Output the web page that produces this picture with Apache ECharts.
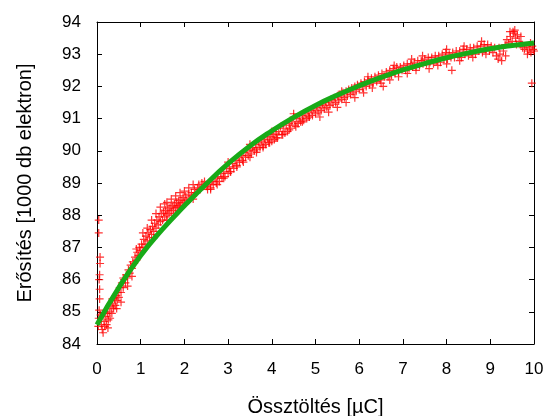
<!DOCTYPE html>
<html>
<head>
<meta charset="utf-8">
<script src="https://cdn.jsdelivr.net/npm/echarts@6/dist/echarts.min.js"></script>
<style>
  html, body { margin: 0; padding: 0; background: #fff; }
  #chart { width: 547px; height: 416px; }
</style>
</head>
<body>
<div id="chart"></div>
<script>
// axis ranges / ticks
const xTicks = [0, 10, 1]
const yTicks = [84, 94, 1]

// illesztett görbe (green fit)
const fitX = [0, 0.5, 1, 1.5, 2, 2.5, 3, 3.5, 4, 4.5, 5, 5.5, 6, 6.5, 7, 7.5, 8, 8.5, 9, 9.5, 10]
const fitY = [84.6, 85.75, 86.75, 87.57, 88.29, 88.97, 89.6, 90.15, 90.62, 91.04, 91.41, 91.73, 92.02, 92.28, 92.51, 92.71, 92.89, 93.04, 93.17, 93.27, 93.35]

// mért pontok, szakaszonként [x, y]
const meas0to1 = [
  [0.03,84.55],[0.04,84.8],[0.05,85.05],[0.06,85.4],[0.06,85.7],[0.05,86.0],[0.06,86.15],[0.07,86.5],[0.07,86.7],[0.04,87.45],[0.04,87.85],
  [0.08,84.9],[0.1,84.6],[0.12,84.45],[0.14,84.35],[0.16,84.7],[0.18,84.55],[0.2,84.85],[0.22,84.6],[0.24,84.95],[0.26,84.75],[0.28,85.0],
  [0.3,84.8],[0.32,85.15],[0.34,84.95],[0.36,85.25],[0.38,85.1],[0.4,85.4],[0.42,85.2],[0.44,85.5],[0.46,85.35],[0.48,85.6],[0.5,85.45],
  [0.52,85.75],[0.55,85.6],[0.57,85.9],[0.6,85.75],[0.62,86.0],[0.65,85.9],[0.67,86.15],[0.7,86.05],[0.72,86.3],[0.75,86.2],[0.77,86.45],
  [0.8,86.35],[0.82,86.55],[0.85,86.5],[0.87,86.7],[0.9,86.6],[0.92,86.85],[0.95,86.75],[0.97,87.0],
  [0.15,84.95],[0.25,84.5],[0.35,85.4],[0.45,85.1],[0.55,85.3],[0.6,86.05],[0.7,85.8],[0.8,86.1],[0.9,86.95]
]
const meas1to25 = [
  [1.0,86.9],[1.02,87.1],[1.05,87.0],[1.07,87.25],[1.1,87.1],[1.12,87.35],[1.15,87.2],[1.17,87.45],[1.2,87.3],[1.22,87.55],[1.25,87.4],
  [1.27,87.65],[1.3,87.5],[1.32,87.75],[1.35,87.6],[1.37,87.85],[1.4,87.7],[1.42,87.95],[1.45,87.8],[1.47,88.05],[1.5,87.85],[1.52,88.1],
  [1.55,87.95],[1.57,88.15],[1.6,88.0],[1.62,88.2],[1.65,88.05],[1.67,88.25],[1.7,88.1],[1.72,88.3],[1.75,88.15],[1.77,88.35],[1.8,88.2],
  [1.82,88.4],[1.85,88.25],[1.87,88.45],[1.9,88.3],[1.92,88.5],[1.95,88.35],[1.97,88.55],[2.0,88.4],[2.03,88.6],[2.06,88.45],[2.1,88.65],
  [2.13,88.5],[2.16,88.7],[2.2,88.6],[2.23,88.8],[2.26,88.7],[2.3,88.85],[2.33,88.95],[2.36,88.8],[2.4,89.0],[2.43,88.9],[2.46,89.05],[2.5,88.9],
  [1.05,87.45],[1.15,87.6],[1.25,87.85],[1.35,88.05],[1.45,88.25],[1.55,88.35],[1.6,88.4],[1.7,88.5],[1.8,88.6],[1.9,88.7],[2.0,88.75],
  [2.1,88.85],[2.2,88.95],[1.3,87.3],[1.6,87.85],[1.9,88.25],[2.2,88.5]
]
const meas25to5 = [
  [2.53,88.8],[2.56,89.0],[2.6,88.85],[2.63,89.05],[2.66,88.95],[2.7,89.15],[2.73,89.0],[2.76,89.2],[2.8,89.05],[2.83,89.3],[2.86,89.15],
  [2.9,89.35],[2.93,89.2],[2.96,89.45],[3.0,89.3],[3.03,89.5],[3.06,89.35],[3.1,89.6],[3.13,89.45],[3.16,89.7],[3.2,89.55],[3.23,89.8],
  [3.26,89.65],[3.3,89.85],[3.33,89.7],[3.36,89.95],[3.4,89.8],[3.43,90.0],[3.46,89.85],[3.5,90.05],[3.53,89.9],[3.56,90.1],[3.6,90.0],
  [3.63,90.2],[3.66,90.05],[3.7,90.25],[3.73,90.1],[3.76,90.3],[3.8,90.15],[3.83,90.35],[3.86,90.2],[3.9,90.4],[3.93,90.25],[3.96,90.45],
  [4.0,90.3],[4.03,90.5],[4.06,90.35],[4.1,90.55],[4.13,90.4],[4.16,90.6],[4.2,90.75],[4.23,90.5],[4.26,90.7],[4.3,90.55],[4.33,90.8],
  [4.36,90.6],[4.4,90.85],[4.43,90.7],[4.46,90.9],[4.5,91.15],[4.53,90.8],[4.56,91.0],[4.6,90.85],[4.63,91.05],[4.66,90.9],[4.7,91.1],
  [4.73,90.95],[4.76,91.15],[4.8,91.0],[4.83,91.2],[4.86,91.05],[4.9,91.25],[4.93,91.1],[4.96,91.3],[5.0,91.15],
  [2.6,88.8],[2.75,88.95],[2.9,89.15],[3.05,89.35],[3.2,89.5],[3.35,89.65],[3.5,89.8],[3.65,89.95],[3.8,90.1],[3.95,90.25],[4.1,90.4],
  [4.25,90.5],[4.4,90.65],[4.55,90.75],[4.7,90.9],[4.85,91.05],[3.0,89.65],[3.5,90.2],[4.0,90.6],[4.5,91.05]
]
const meas5to75 = [
  [5.03,91.35],[5.06,91.2],[5.1,91.4],[5.13,91.25],[5.16,91.45],[5.2,91.3],[5.23,91.5],[5.26,91.35],[5.3,91.55],[5.33,91.4],[5.36,91.6],
  [5.4,91.45],[5.43,91.65],[5.46,91.5],[5.5,91.7],[5.53,91.55],[5.56,91.75],[5.6,91.6],[5.63,91.8],[5.66,91.65],[5.7,91.85],[5.73,91.7],
  [5.76,91.9],[5.8,91.75],[5.83,91.95],[5.86,91.8],[5.9,92.0],[5.93,91.85],[5.96,92.05],[6.0,91.9],[6.04,92.1],[6.08,91.95],[6.12,92.15],
  [6.16,92.0],[6.2,92.2],[6.24,92.05],[6.28,92.25],[6.32,92.1],[6.36,92.3],[6.4,92.15],[6.44,92.35],[6.48,92.2],[6.52,92.4],[6.55,92.0],
  [6.58,92.3],[6.62,92.45],[6.66,92.3],[6.7,92.5],[6.74,92.35],[6.78,92.55],[6.82,92.4],[6.86,92.6],[6.9,92.45],[6.94,92.6],[6.98,92.5],
  [7.02,92.65],[7.06,92.5],[7.1,92.7],[7.14,92.55],[7.18,92.7],[7.22,92.6],[7.26,92.75],[7.3,92.6],[7.34,92.8],[7.38,92.65],[7.42,92.8],[7.46,92.7],
  [5.1,91.05],[5.3,91.2],[5.5,91.35],[5.7,91.5],[5.9,91.65],[6.1,91.8],[6.3,91.95],[6.5,92.1],[6.7,92.2],[6.9,92.3],[7.1,92.4],[7.3,92.5],
  [5.6,91.85],[6.2,92.3],[6.8,92.65],[7.2,92.85],[7.45,92.95]
]
const meas75to10 = [
  [7.5,92.85],[7.54,92.7],[7.58,92.9],[7.62,92.75],[7.66,92.9],[7.7,92.7],[7.74,92.95],[7.78,92.8],[7.82,92.95],[7.86,92.75],[7.9,93.0],
  [7.94,92.85],[7.98,93.05],[8.02,92.85],[8.06,93.0],[8.1,92.9],[8.12,92.5],[8.14,93.05],[8.18,92.9],[8.22,93.1],[8.26,92.95],[8.3,93.1],
  [8.34,92.9],[8.38,93.15],[8.42,93.0],[8.46,93.15],[8.5,92.95],[8.54,93.2],[8.58,93.05],[8.62,93.2],[8.66,93.0],[8.7,93.25],[8.74,93.1],
  [8.78,93.25],[8.82,93.05],[8.86,93.3],[8.9,93.15],[8.94,93.3],[8.98,93.1],[9.02,93.25],[9.06,93.05],[9.1,93.2],[9.14,92.95],[9.18,92.85],
  [9.22,93.0],[9.26,92.8],[9.3,93.1],[9.34,93.3],[9.38,93.45],[9.42,93.35],[9.46,93.55],[9.5,93.4],[9.54,93.65],[9.56,93.75],[9.58,93.5],
  [9.62,93.6],[9.66,93.4],[9.7,93.3],[9.74,93.2],[9.78,93.15],[9.82,93.25],[9.86,93.1],[9.9,93.2],[9.93,93.05],[9.96,93.25],[9.98,93.15],[9.95,92.1],
  [7.6,92.55],[7.8,92.65],[8.0,92.7],[8.3,92.8],[8.6,92.9],[8.9,93.0],[8.0,93.15],[8.4,93.25],[8.8,93.4],[9.45,93.7],[9.52,93.7],
  [9.6,93.3],[9.2,93.2],[9.35,92.95],[9.7,93.55],[9.85,93.0],[9.92,93.35],[10.0,93.1]
]

const measured = [].concat(meas0to1, meas1to25, meas25to5, meas5to75, meas75to10)
const fitData = fitX.map((x, i) => [x, fitY[i]])

const FONT = 'Liberation Sans'
const plusSymbol = 'path://M3.4,0h1.2v3.4h3.4v1.2h-3.4v3.4h-1.2v-3.4h-3.4v-1.2h3.4z'

const axisCommon = {
  type: 'value',
  axisLine: { show: true, onZero: false, lineStyle: { color: '#000', width: 1 } },
  axisTick: { show: true, inside: true, length: 5, lineStyle: { color: '#000' } },
  splitLine: { show: false }
}

const chart = echarts.init(document.getElementById('chart'), null, { renderer: 'canvas' })

chart.setOption({
  animation: false,
  backgroundColor: '#fff',
  grid: { left: 97, right: 13, top: 22, bottom: 72, outerBoundsMode: 'none', containLabel: false },
  xAxis: [
    {
      ...axisCommon,
      position: 'bottom',
      min: xTicks[0], max: xTicks[1], interval: xTicks[2],
      name: 'Össztöltés [µC]',
      nameLocation: 'middle',
      nameGap: 53,
      nameTextStyle: { fontFamily: FONT, fontSize: 20, color: '#000' },
      axisLabel: { margin: 17, fontFamily: FONT, fontSize: 17, color: '#000' }
    },
    {
      ...axisCommon,
      position: 'top',
      min: xTicks[0], max: xTicks[1], interval: xTicks[2],
      axisLabel: { show: false }
    }
  ],
  yAxis: [
    {
      ...axisCommon,
      position: 'left',
      min: yTicks[0], max: yTicks[1], interval: yTicks[2],
      name: 'Erősítés [1000 db elektron]',
      nameLocation: 'middle',
      nameGap: 62,
      nameTextStyle: { fontFamily: FONT, fontSize: 20, color: '#000' },
      axisLabel: { margin: 16, fontFamily: FONT, fontSize: 17, color: '#000' }
    },
    {
      ...axisCommon,
      position: 'right',
      min: yTicks[0], max: yTicks[1], interval: yTicks[2],
      axisLabel: { show: false }
    }
  ],
  series: [
    {
      name: 'mért',
      type: 'scatter',
      data: measured,
      symbol: plusSymbol,
      symbolSize: 8,
      itemStyle: { color: '#ff0000' },
      silent: true
    },
    {
      name: 'illesztés',
      type: 'line',
      data: fitData,
      smooth: true,
      showSymbol: false,
      lineStyle: { color: '#18aa18', width: 5 },
      silent: true
    }
  ]
})
</script>
</body>
</html>
